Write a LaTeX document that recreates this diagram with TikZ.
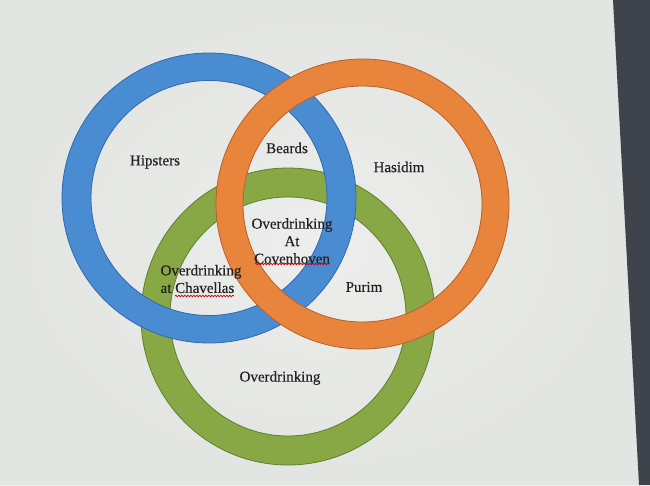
\documentclass[tikz,border=0pt]{standalone}
\usepackage{fontspec}
\setmainfont{Liberation Serif}[FakeBold=0.4]
\usetikzlibrary{decorations.pathmorphing}
\definecolor{paper}{HTML}{E3E5E2}
\definecolor{bezel}{HTML}{3E434C}
\definecolor{ringblue}{HTML}{4A8CD2}
\definecolor{ringblueE}{HTML}{2F6AAE}
\definecolor{ringorange}{HTML}{E9843C}
\definecolor{ringorangeE}{HTML}{B8602A}
\definecolor{ringgreen}{HTML}{87A845}
\definecolor{ringgreenE}{HTML}{5F7F30}
\definecolor{ink}{HTML}{222222}
\tikzset{
  lbl/.style={font=\fontsize{15}{17.5}\selectfont, text=ink, inner sep=0pt, align=center},
  squiggle/.style={draw=red!80!black, line width=0.7pt, decorate,
    decoration={snake, amplitude=0.8pt, segment length=3pt}},
}
\begin{document}
\begin{tikzpicture}[x=1pt,y=-1pt]
\useasboundingbox (0,0) rectangle (650,485);
% paper and monitor bezel
\fill[paper] (0,0) rectangle (650,485);
\shade[inner color=white!60!paper, outer color=paper, opacity=0.6] (0,0) rectangle (640,485);
\fill[bezel] (613,0) -- (650,0) -- (650,485) -- (639,485) -- cycle;
% green ring (bottom)
\fill[ringgreen, even odd rule, draw=ringgreenE, line width=0.8pt]
  (288,316.5) ellipse [x radius=147, y radius=148.5]
  (288,316.5) ellipse [x radius=118, y radius=119.5];
% blue ring
\fill[ringblue, even odd rule, draw=ringblueE, line width=0.8pt]
  (209,198) ellipse [x radius=147, y radius=145]
  (209,198) ellipse [x radius=118, y radius=117.5];
% orange ring (top)
\fill[ringorange, even odd rule, draw=ringorangeE, line width=0.8pt]
  (362.5,204) ellipse [x radius=146.5, y radius=145]
  (362.5,204) ellipse [x radius=119.5, y radius=118];
% labels
\node[lbl] (hip) at (155,162) {Hipsters};
\node[lbl] (bea) at (287,148) {Beards};
\node[lbl] (has) at (399,167) {Hasidim};
\node[lbl] (cov) at (292,241) {Overdrinking\\At\\Covenhoven};
\node[lbl, align=left] (cha) at (201,279) {Overdrinking\\at Chavellas};
\node[lbl] (pur) at (364,287) {Purim};
\node[lbl] (ovr) at (280,378) {Overdrinking};
% spell-check underlines
\draw[squiggle] (255,264) -- (330,264);
\draw[squiggle] (175,296) -- (234,296);
\end{tikzpicture}
\end{document}
